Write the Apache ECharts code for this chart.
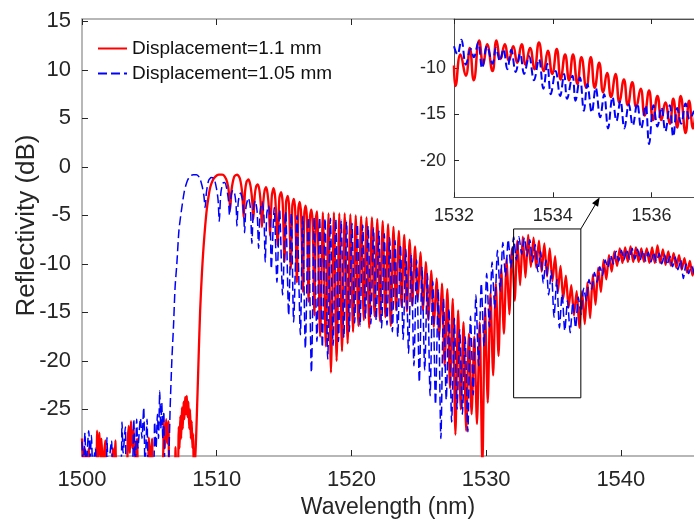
<!DOCTYPE html>
<html>
<head>
<meta charset="utf-8">
<script src="https://cdn.jsdelivr.net/npm/echarts@6/dist/echarts.min.js"></script>
<style>html,body{margin:0;padding:0;background:#fff}#c{width:694px;height:525px}</style>
</head>
<body>
<div id="c"></div>
<script>
// ---------- axes ----------
const mainXRange = [1500, 1545.43];
const mainYRange = [-29.8, 15.24];
const insetXRange = [1532, 1536.86];
const insetYRange = [-23.96, -4.66];
const xTicksMain = [1500, 1510, 1520, 1530, 1540];
const yTicksMain = [-25, -20, -15, -10, -5, 0, 5, 10, 15];
const xTicksInset = [1532, 1534, 1536];
const yTicksInset = [-20, -15, -10];
const legendNames = ['Displacement=1.1 mm', 'Displacement=1.05 mm'];

// ---------- red (1.1 mm), main plot ----------
const redNoise = [[1500.0,-28.0],[1500.1,-31],[1500.2,-28.9],[1500.35,-31],[1500.5,-29.0],[1500.6,-31],[1501.05,-31],[1501.12,-27.2],[1501.2,-30],[1501.29,-27.4],[1501.37,-30],[1501.44,-28.0],[1501.55,-31],[1501.73,-28.2],[1501.85,-31],[1502.2,-31],[1502.3,-29],[1502.4,-31],[1502.48,-28.2],[1502.6,-31],[1503.3,-31],[1503.4,-28],[1503.47,-26.7],[1503.55,-29.5],[1503.64,-26.2],[1503.74,-29],[1503.84,-27.0],[1503.95,-31],[1504.09,-28.0],[1504.2,-31],[1504.85,-31],[1504.96,-27.9],[1505.08,-31],[1505.2,-28.0],[1505.3,-31],[1505.95,-31],[1506.07,-26.3],[1506.15,-29],[1506.25,-26.0],[1506.33,-28.5],[1506.42,-26.2],[1506.5,-31],[1506.9,-31],[1506.94,-28.9],[1507.0,-31],[1507.12,-31],[1507.18,-26.8],[1507.24,-29],[1507.3,-25.7],[1507.36,-28],[1507.42,-24.8],[1507.48,-27],[1507.54,-24.2],[1507.6,-26],[1507.66,-23.7],[1507.72,-25.5],[1507.78,-23.6],[1507.84,-25.8],[1507.9,-24.2],[1507.96,-27],[1508.02,-25.0],[1508.08,-28],[1508.14,-26.2],[1508.2,-29],[1508.25,-27.5],[1508.3,-31]];
const redLobes = [[1508.42,-29.6],[1508.55,-24.5],[1508.66,-19.5],[1508.77,-14.8],[1508.9,-11.0],[1509.02,-8.3],[1509.15,-6.0],[1509.27,-4.3],[1509.4,-3.0],[1509.52,-2.1],[1509.7,-1.4],[1509.9,-1.0],[1510.15,-0.8],[1510.4,-0.8],[1510.6,-1.0],[1510.78,-1.6],[1510.92,-2.8],[1511.0,-4.4],[1511.1,-2.4],[1511.3,-1.0],[1511.52,-0.8],[1511.72,-1.2],[1511.9,-2.8],[1512.0,-5.2],[1512.1,-2.6],[1512.22,-1.5],[1512.36,-1.3],[1512.5,-1.9],[1512.63,-3.4],[1512.72,-5.4],[1512.82,-3.0],[1512.93,-2.0],[1513.05,-1.8],[1513.17,-2.4],[1513.28,-4.0],[1513.36,-6.2],[1513.46,-3.6],[1513.56,-2.4],[1513.66,-2.1],[1513.77,-2.7],[1513.88,-4.4],[1513.96,-7.1],[1514.09,-3.0],[1514.22,-2.2],[1514.35,-3.3],[1514.52,-8.1],[1514.65,-3.2],[1514.78,-2.6],[1514.9,-3.8],[1515.03,-9.8],[1515.15,-3.6],[1515.27,-3.0],[1515.38,-4.3],[1515.5,-10.5],[1515.61,-4.0],[1515.72,-3.3],[1515.83,-4.6],[1515.95,-11.9],[1516.06,-4.3],[1516.16,-3.6],[1516.27,-5.0],[1516.4,-12.9],[1516.5,-4.8],[1516.6,-4.0],[1516.7,-5.4],[1516.82,-13.9],[1516.92,-5.2],[1517.02,-4.4],[1517.13,-6.0],[1517.25,-15.3],[1517.35,-5.4],[1517.45,-4.6],[1517.68,-17.5],[1517.88,-4.7],[1518.1,-18.5],[1518.3,-4.8],[1518.48,-21.2],[1518.7,-4.7],[1518.9,-20.0],[1519.1,-4.8],[1519.3,-19.0],[1519.5,-4.8],[1519.72,-18.2],[1519.92,-4.9]];
// dense fringes, sampled every 0.2 nm from 1520.12 nm (trough, peak, trough, ...)
const redDenseStart = 1520.12, redDenseStep = 0.2;
const redDense = [-17.0,-5.0,-16.4,-5.1,-15.8,-5.2,-16.6,-5.2,-15.4,-5.4,
-15.9,-5.6,-15.5,-5.9,-16.4,-6.2,-14.8,-6.6,-14.4,-7.0,
-14.9,-7.5,-14.3,-8.2,-13.8,-8.8,-14.8,-9.8,-15.8,-10.7,
-16.5,-11.5,-17.6,-12.0,-20.5,-12.6,-22.8,-13.6,-27.6,-14.8,
-25.0,-16.0,-27.2,-17.2,-25.5,-17.5,-26.5,-16.0,-31,-14.5,
-24.3,-13.0,-21.5,-12.0,-19.5,-10.5,-17.2,-9.4,-15.2,-8.4,
-13.8,-7.6,-12.2,-7.2,-11.4,-7.0,-10.3,-7.3,-10.4,-7.6,
-10.8,-7.9,-11.3,-8.4,-11.8,-9.2,-12.9,-10.2,-13.6,-11.2,
-14.5,-12.2,-15.3,-12.8,-16.6,-12.8,-16.2,-11.9,-15.6,-11.1,
-14.2,-10.4,-12.9,-9.6,-11.6,-9.1,-10.8,-8.7,-10.2,-8.4,
-9.9,-8.3,-9.8,-8.2,-9.8,-8.3,-9.8,-8.4,-9.8,-8.4,
-9.9,-8.3,-9.9,-8.1,-9.9,-8.5,-10.1,-8.7,-10.2,-8.9,
-10.4,-9.1,-10.6,-9.4,-10.9,-9.7,-11.2,-10.1];

// ---------- blue (1.05 mm), main plot ----------
const blueNoise = [[1500.0,-28.3],[1500.1,-31],[1500.22,-27.4],[1500.3,-31],[1500.5,-27.2],[1500.6,-30],[1500.7,-27.7],[1500.8,-31],[1501.0,-29],[1501.1,-31],[1501.8,-31],[1501.85,-27.9],[1501.95,-31],[1502.2,-28.2],[1502.3,-31],[1502.85,-31],[1502.97,-26.3],[1503.05,-29.5],[1503.22,-26.8],[1503.3,-31],[1503.7,-31],[1503.84,-26.0],[1503.95,-31],[1504.06,-26.0],[1504.15,-29],[1504.34,-25.9],[1504.45,-28],[1504.58,-24.8],[1504.68,-31],[1504.83,-26.0],[1504.95,-31],[1505.3,-31],[1505.39,-26.3],[1505.5,-29],[1505.6,-25.5],[1505.68,-28],[1505.77,-23.1],[1505.85,-27],[1505.92,-24.3],[1506.0,-28],[1506.07,-25.2],[1506.18,-31],[1506.35,-31]];
const blueLobes = [[1506.45,-29.6],[1506.54,-25.0],[1506.67,-19.9],[1506.79,-16.5],[1506.91,-12.4],[1507.04,-10.0],[1507.2,-6.5],[1507.4,-4.3],[1507.6,-2.5],[1507.8,-1.5],[1508.0,-1.0],[1508.25,-0.8],[1508.5,-0.8],[1508.72,-1.1],[1508.92,-2.0],[1509.05,-3.0],[1509.14,-4.2],[1509.24,-2.6],[1509.4,-1.4],[1509.6,-1.1],[1509.8,-1.2],[1509.98,-2.2],[1510.1,-3.4],[1510.19,-5.6],[1510.3,-2.8],[1510.45,-1.7],[1510.6,-1.6],[1510.75,-2.3],[1510.87,-3.4],[1510.95,-5.0],[1511.05,-3.2],[1511.2,-2.4],[1511.34,-2.8],[1511.44,-4.0],[1511.5,-6.1],[1511.6,-3.6],[1511.76,-2.7],[1511.9,-3.3],[1512.0,-4.6],[1512.07,-6.8],[1512.17,-4.2],[1512.35,-3.2],[1512.5,-4.2],[1512.61,-7.9],[1512.72,-4.4],[1512.86,-3.5],[1513.0,-4.6],[1513.11,-8.4],[1513.22,-4.6],[1513.36,-3.6],[1513.5,-4.9],[1513.6,-9.8],[1513.72,-4.8],[1513.85,-4.0],[1513.97,-5.4],[1514.05,-10.5],[1514.27,-4.2],[1514.47,-11.9],[1514.67,-4.4],[1514.89,-13.2],[1515.12,-4.6],[1515.34,-15.3],[1515.54,-4.8],[1515.71,-16.0],[1515.96,-5.0],[1516.21,-17.3],[1516.38,-5.1],[1516.58,-18.7],[1516.8,-5.2],[1517.03,-21.2]];
// dense fringes, sampled every 0.2 nm from 1517.24 nm (peak, trough, peak, ...)
const blueDenseStart = 1517.24, blueDenseStep = 0.2;
const blueDense = [-5.2,-18.0,-5.2,-18.6,-5.3,-19.8,-5.3,-18.4,-5.4,-18.0,
-5.5,-17.6,-5.6,-17.0,-5.8,-16.1,-5.9,-16.4,-6.0,-15.6,
-6.1,-16.2,-6.3,-15.8,-6.6,-16.6,-6.9,-16.3,-7.3,-17.0,
-7.6,-17.5,-8.0,-17.8,-8.5,-19.2,-9.0,-20.5,-9.6,-22.2,
-10.3,-21.0,-11.0,-23.6,-11.8,-24.5,-12.6,-28.0,-13.6,-24.0,
-14.6,-26.3,-15.6,-25.0,-16.8,-25.5,-17.5,-27.3,-15.4,-23.5,
-13.2,-20.5,-12.0,-18.5,-11.0,-16.5,-9.8,-14.6,-8.6,-12.8,
-7.8,-11.3,-7.5,-10.4,-7.2,-9.6,-7.2,-9.0,-7.3,-9.2,
-7.5,-9.8,-8.0,-10.8,-8.7,-12.0,-9.6,-13.2,-10.7,-15.5,
-11.6,-16.6,-13.1,-16.9,-13.8,-17.1,-14.0,-16.6,-13.4,-15.2,
-12.5,-13.8,-11.6,-12.6,-10.9,-11.9,-10.3,-11.2,-9.6,-10.4,
-9.1,-10.0,-8.7,-9.7,-8.6,-9.6,-8.5,-9.5,-8.4,-9.5,
-8.5,-9.6,-8.6,-9.7,-8.8,-9.8,-8.8,-9.8,-8.9,-10.0,
-9.0,-10.1,-9.2,-10.3,-9.3,-10.6,-9.6,-11.5,-10.0,-11.0,
-10.2,-11.0];

// ---------- inset (1532-1537 nm) ----------
const redInset = [[1532.0,-9.7],[1532.03,-11.9],[1532.13,-8.5],[1532.24,-10.8],[1532.32,-7.8],[1532.4,-11.3],[1532.51,-7.0],[1532.59,-9.6],[1532.67,-7.4],[1532.78,-10.3],[1532.86,-7.0],[1532.94,-9.0],[1533.03,-7.4],[1533.11,-9.2],[1533.2,-7.6],[1533.28,-9.4],[1533.37,-7.4],[1533.45,-9.6],[1533.54,-7.8],[1533.63,-10.1],[1533.72,-7.2],[1533.82,-10.3],[1533.9,-8.1],[1533.99,-10.6],[1534.08,-7.9],[1534.16,-11.2],[1534.25,-8.5],[1534.33,-11.3],[1534.41,-8.5],[1534.5,-11.7],[1534.58,-8.8],[1534.68,-12.1],[1534.77,-8.8],[1534.85,-12.1],[1534.94,-9.4],[1535.02,-12.6],[1535.1,-10.5],[1535.18,-13.1],[1535.27,-10.6],[1535.35,-13.7],[1535.44,-11.2],[1535.52,-14.0],[1535.61,-11.5],[1535.69,-14.2],[1535.78,-12.2],[1535.86,-15.1],[1535.95,-12.4],[1536.03,-15.6],[1536.12,-13.0],[1536.2,-15.6],[1536.28,-13.7],[1536.37,-16.0],[1536.44,-13.3],[1536.52,-16.4],[1536.59,-13.0],[1536.69,-17.0],[1536.76,-13.5],[1536.84,-16.5],[1536.9,-14.0]];
const blueInset = [[1532.0,-7.6],[1532.07,-8.5],[1532.15,-6.9],[1532.24,-9.6],[1532.34,-7.9],[1532.4,-8.8],[1532.49,-7.2],[1532.57,-10.0],[1532.67,-7.6],[1532.78,-9.5],[1532.85,-7.8],[1532.93,-9.2],[1533.0,-7.9],[1533.08,-10.1],[1533.16,-8.0],[1533.25,-10.4],[1533.34,-8.4],[1533.42,-10.6],[1533.52,-8.7],[1533.62,-11.3],[1533.72,-9.0],[1533.81,-12.2],[1533.89,-9.5],[1533.96,-12.8],[1534.06,-10.3],[1534.15,-13.0],[1534.23,-10.6],[1534.29,-13.3],[1534.4,-10.8],[1534.46,-13.5],[1534.55,-11.0],[1534.63,-14.6],[1534.7,-11.7],[1534.79,-14.8],[1534.87,-12.1],[1534.96,-15.3],[1535.04,-12.8],[1535.12,-16.5],[1535.21,-13.1],[1535.29,-15.7],[1535.37,-13.5],[1535.45,-16.5],[1535.54,-13.9],[1535.62,-16.2],[1535.71,-13.8],[1535.79,-16.5],[1535.88,-14.0],[1535.95,-18.2],[1536.04,-14.0],[1536.12,-16.3],[1536.2,-14.2],[1536.28,-16.8],[1536.37,-14.0],[1536.44,-17.4],[1536.52,-14.3],[1536.6,-16.0],[1536.69,-13.8],[1536.77,-15.5],[1536.86,-14.6]];

// ---------- annotations ----------
const zoomBox = [[1532.04, -6.4], [1537.03, -23.8]];   // [x0,yTop],[x1,yBottom]
const arrowTipX = 1534.95;                              // on inset bottom edge

// ---------- build ----------
const redMain = redNoise.concat(redLobes, redDense.map((v, i) => [+(redDenseStart + i * redDenseStep).toFixed(2), v]));
const blueMain = blueNoise.concat(blueLobes, blueDense.map((v, i) => [+(blueDenseStart + i * blueDenseStep).toFixed(2), v]));
const boxData = [[zoomBox[0][0], zoomBox[0][1]], [zoomBox[1][0], zoomBox[0][1]], [zoomBox[1][0], zoomBox[1][1]], [zoomBox[0][0], zoomBox[1][1]], [zoomBox[0][0], zoomBox[0][1]]];

const FONT = '"Liberation Sans", Arial, Helvetica, sans-serif';
const TXT = '#262626';
const RED = '#ff0000', BLUE = '#0000ff';
const plain = v => String(v);

const chart = echarts.init(document.getElementById('c'), null, {renderer: 'canvas'});
const mainAxisLine = {show: true, onZero: false, lineStyle: {color: '#a0a0a0', width: 1.5}};
const insetAxisLine = {show: true, onZero: false, lineStyle: {color: '#505050', width: 1}};

chart.setOption({
  animation: false,
  backgroundColor: '#ffffff',
  textStyle: {fontFamily: FONT, color: TXT},
  grid: [
    {left: 82, right: 0, top: 19, bottom: 69, containLabel: false, outerBoundsMode: 'none'},
    {left: 454, right: 0, top: 19, bottom: 327.7, containLabel: false, outerBoundsMode: 'none'}
  ],
  legend: {
    data: legendNames, orient: 'vertical', left: 97, top: 39, padding: 0,
    itemWidth: 29, itemHeight: 14, itemGap: 6,
    itemStyle: {opacity: 0},
    textStyle: {fontSize: 19, color: '#111', fontFamily: FONT}
  },
  xAxis: [
    {gridIndex: 0, type: 'value', min: mainXRange[0], max: mainXRange[1], position: 'bottom',
     axisLine: mainAxisLine, splitLine: {show: false},
     axisTick: {show: true, inside: true, length: 6, customValues: xTicksMain, lineStyle: {color: TXT}},
     axisLabel: {customValues: xTicksMain, formatter: plain, fontSize: 22, margin: 13, color: TXT, fontFamily: FONT},
     name: 'Wavelength (nm)', nameLocation: 'middle', nameGap: 40, nameMoveOverlap: false,
     nameTextStyle: {fontSize: 23, color: TXT, fontFamily: FONT}},
    {gridIndex: 0, type: 'value', min: mainXRange[0], max: mainXRange[1], position: 'top',
     axisLine: mainAxisLine, splitLine: {show: false},
     axisTick: {show: true, inside: true, length: 6, customValues: xTicksMain, lineStyle: {color: TXT}},
     axisLabel: {show: false}},
    {gridIndex: 1, type: 'value', min: insetXRange[0], max: insetXRange[1], position: 'bottom', z: 5,
     axisLine: insetAxisLine, splitLine: {show: false},
     axisTick: {show: true, inside: true, length: 5, customValues: xTicksInset, lineStyle: {color: TXT}},
     axisLabel: {customValues: xTicksInset, formatter: plain, fontSize: 18, margin: 10, color: TXT, fontFamily: FONT}},
    {gridIndex: 1, type: 'value', min: insetXRange[0], max: insetXRange[1], position: 'top', z: 5,
     axisLine: insetAxisLine, splitLine: {show: false},
     axisTick: {show: true, inside: true, length: 5, customValues: xTicksInset, lineStyle: {color: TXT}},
     axisLabel: {show: false}}
  ],
  yAxis: [
    {gridIndex: 0, type: 'value', min: mainYRange[0], max: mainYRange[1],
     axisLine: mainAxisLine, splitLine: {show: false},
     axisTick: {show: true, inside: true, length: 6, customValues: yTicksMain, lineStyle: {color: TXT}},
     axisLabel: {customValues: yTicksMain, formatter: plain, fontSize: 22, margin: 11, color: TXT, fontFamily: FONT},
     name: 'Reflectivity (dB)', nameLocation: 'middle', nameGap: 42, nameMoveOverlap: false,
     nameTextStyle: {fontSize: 26, color: TXT, fontFamily: FONT, padding: [0, 0, 0, 24]}},
    {gridIndex: 1, type: 'value', min: insetYRange[0], max: insetYRange[1], z: 5,
     axisLine: insetAxisLine, splitLine: {show: false},
     axisTick: {show: true, inside: true, length: 5, customValues: yTicksInset, lineStyle: {color: TXT}},
     axisLabel: {customValues: yTicksInset, formatter: plain, fontSize: 18, margin: 8, color: TXT, fontFamily: FONT}}
  ],
  series: [
    {name: legendNames[0], type: 'line', xAxisIndex: 0, yAxisIndex: 0, data: redMain,
     symbol: 'none', showSymbol: false, smooth: 0.25, clip: true, z: 2,
     lineStyle: {color: RED, width: 2.3}, itemStyle: {color: RED}},
    {name: legendNames[1], type: 'line', xAxisIndex: 0, yAxisIndex: 0, data: blueMain,
     symbol: 'none', showSymbol: false, smooth: 0.25, clip: true, z: 3,
     lineStyle: {color: BLUE, width: 1.5, type: [9, 4]}, itemStyle: {color: BLUE}},
    {name: 'box', type: 'line', xAxisIndex: 0, yAxisIndex: 0, data: boxData,
     symbol: 'none', showSymbol: false, z: 3, silent: true,
     lineStyle: {color: '#000', width: 1}},
    {name: legendNames[0], type: 'line', xAxisIndex: 2, yAxisIndex: 1, data: redInset,
     symbol: 'none', showSymbol: false, smooth: 0.5, clip: true, z: 6,
     lineStyle: {color: RED, width: 2.5}, itemStyle: {color: RED}},
    {name: legendNames[1], type: 'line', xAxisIndex: 2, yAxisIndex: 1, data: blueInset,
     symbol: 'none', showSymbol: false, smooth: 0.4, clip: true, z: 7,
     lineStyle: {color: BLUE, width: 2, type: [8, 4]}, itemStyle: {color: BLUE}}
  ]
});

// white backing for the inset and the arrow from the zoom box to the inset
const tl = chart.convertToPixel({xAxisIndex: 2, yAxisIndex: 1}, [insetXRange[0], insetYRange[1]]);
const br = chart.convertToPixel({xAxisIndex: 2, yAxisIndex: 1}, [insetXRange[1], insetYRange[0]]);
const p1 = chart.convertToPixel({xAxisIndex: 0, yAxisIndex: 0}, [zoomBox[1][0], zoomBox[0][1]]);
const p2 = chart.convertToPixel({xAxisIndex: 2, yAxisIndex: 1}, [arrowTipX, insetYRange[0]]);
const dx = p2[0] - p1[0], dy = p2[1] - p1[1], L = Math.hypot(dx, dy);
const ux = dx / L, uy = dy / L, nx = -uy, ny = ux;
const hl = 9, hw = 3.5;
const bx = p2[0] - ux * hl, by = p2[1] - uy * hl;
chart.setOption({
  graphic: [
    {type: 'rect', z: 4, silent: true, shape: {x: tl[0], y: tl[1], width: br[0] - tl[0], height: br[1] - tl[1]}, style: {fill: '#fff'}},
    {type: 'line', z: 8, silent: true, shape: {x1: p1[0], y1: p1[1], x2: bx, y2: by}, style: {stroke: '#000', lineWidth: 1}},
    {type: 'polygon', z: 8, silent: true, shape: {points: [[p2[0], p2[1]], [bx + nx * hw, by + ny * hw], [bx - nx * hw, by - ny * hw]]}, style: {fill: '#000'}}
  ]
});
</script>
</body>
</html>
